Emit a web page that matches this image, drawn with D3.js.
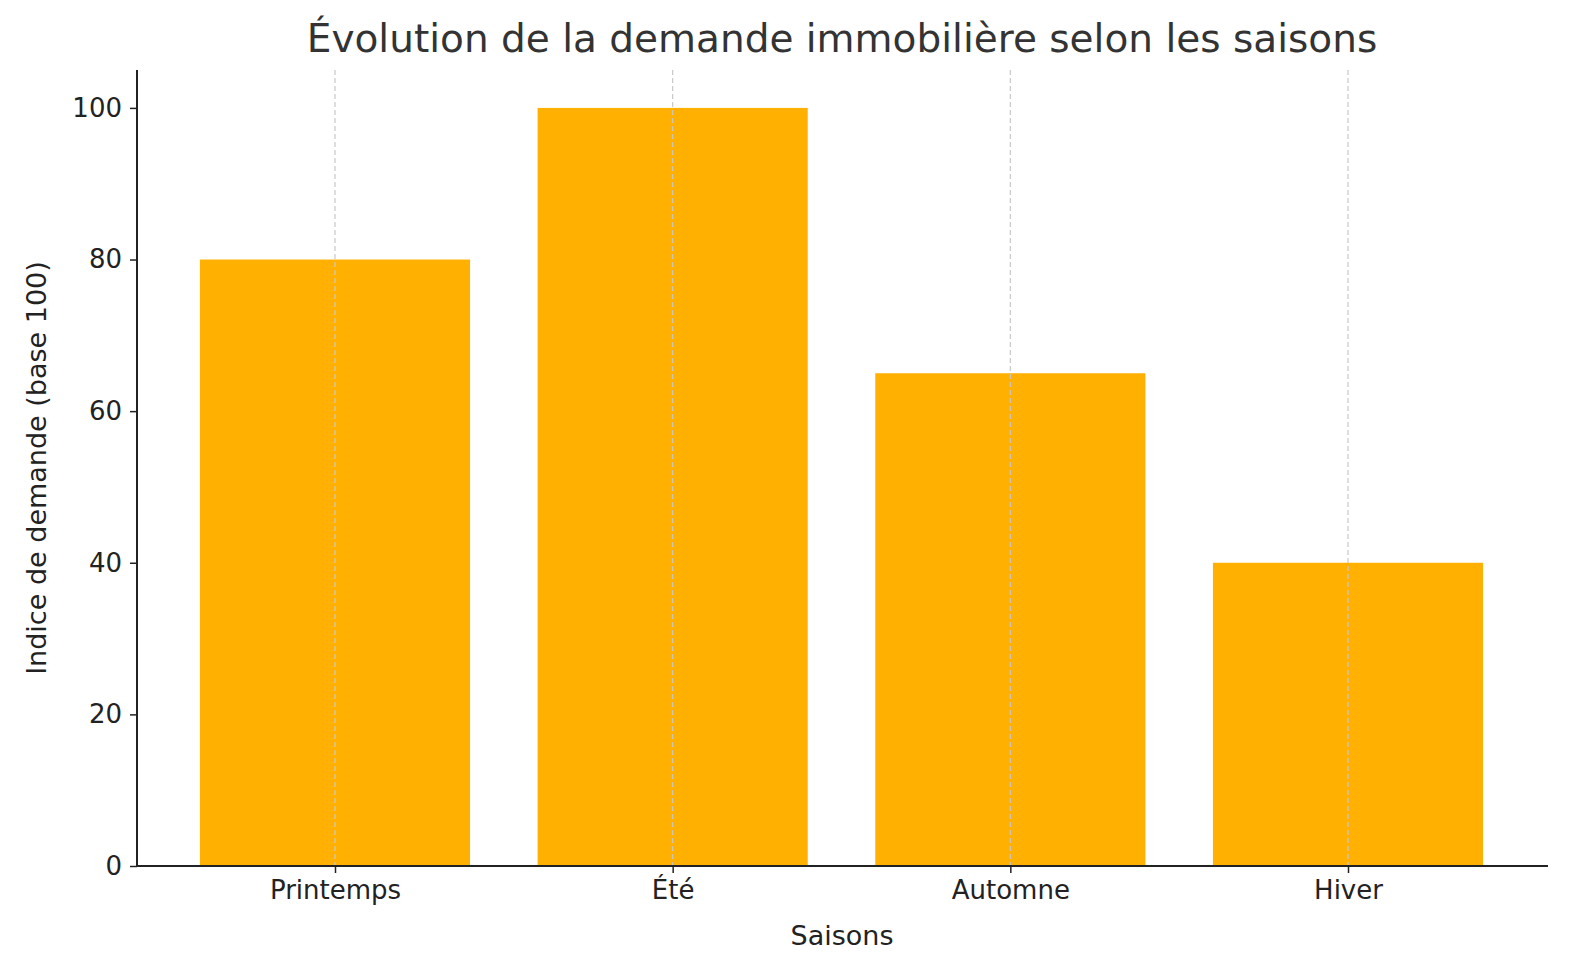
<!DOCTYPE html>
<html><head><meta charset="utf-8">
<script src="https://cdn.jsdelivr.net/npm/d3@7"></script>
<style>body{margin:0;background:#fff}text{font-family:"DejaVu Sans",sans-serif;fill:#222}</style>
</head><body><svg id="c" width="1580" height="980"></svg>
<script>
const seasons = ["Printemps", "Été", "Automne", "Hiver"];
const demand = [80, 100, 65, 40];
const yTicks = [0, 20, 40, 60, 80, 100];

const mLeft = 137, mRight = 1548, mTop = 70, mBottom = 866;
const svg = d3.select("#c");
const x = d3.scalePoint().domain(seasons).range([335, 1348]);
const barW = x.step() * 0.8;
const y = d3.scaleLinear().domain([0, 105]).range([mBottom, mTop]);

svg.append("g").selectAll("rect").data(seasons).join("rect")
  .attr("x", d => x(d) - barW / 2).attr("width", barW)
  .attr("y", (d, i) => y(demand[i])).attr("height", (d, i) => mBottom - y(demand[i]))
  .attr("fill", "#ffb000");

// vertical dashed grid, drawn over the bars
svg.append("g").selectAll("line").data(seasons).join("line")
  .attr("x1", d => x(d)).attr("x2", d => x(d)).attr("y1", mTop).attr("y2", mBottom)
  .attr("stroke", "#c8c8c8").attr("stroke-dasharray", "5,3").attr("stroke-width", 1.2);

const xa = svg.append("g").attr("transform", `translate(0,${mBottom})`)
  .call(d3.axisBottom(x).tickSize(7).tickPadding(8));
xa.select(".domain").remove();
xa.selectAll("text").style("font-size", "26px").attr("fill", "#222");
xa.selectAll("line").attr("stroke", "#222").attr("stroke-width", 1.5);
svg.append("line").attr("x1", mLeft).attr("x2", mRight).attr("y1", mBottom).attr("y2", mBottom)
  .attr("stroke", "#222").attr("stroke-width", 2);

const ya = svg.append("g").attr("transform", `translate(${mLeft},0)`)
  .call(d3.axisLeft(y).tickValues(yTicks).tickSize(7).tickPadding(8));
ya.select(".domain").remove();
ya.selectAll("text").style("font-size", "26px").attr("fill", "#222");
ya.selectAll("line").attr("stroke", "#222").attr("stroke-width", 1.5);
svg.append("line").attr("x1", mLeft).attr("x2", mLeft).attr("y1", mTop).attr("y2", mBottom)
  .attr("stroke", "#222").attr("stroke-width", 2);

svg.append("text").attr("x", 842).attr("y", 52).attr("text-anchor", "middle")
  .style("font-size", "39px").style("fill", "#333").text("Évolution de la demande immobilière selon les saisons");
svg.append("text").attr("x", 842).attr("y", 945).attr("text-anchor", "middle")
  .style("font-size", "27px").text("Saisons");
svg.append("text").attr("transform", `translate(46,${(mTop + mBottom) / 2}) rotate(-90)`)
  .attr("text-anchor", "middle").style("font-size", "27px").text("Indice de demande (base 100)");
</script></body></html>
